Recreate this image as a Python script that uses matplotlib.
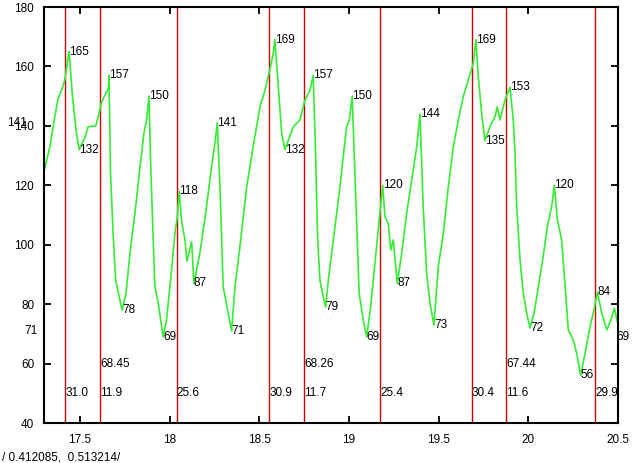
import matplotlib
matplotlib.use('Agg')
import matplotlib.pyplot as plt
import matplotlib.transforms as mtransforms

# signal trace
sig_x = [17.30, 17.333, 17.36, 17.379, 17.398, 17.416, 17.435, 17.44, 17.459, 17.481,
         17.496, 17.528, 17.546, 17.589, 17.602, 17.621, 17.64, 17.658, 17.662, 17.671,
         17.686, 17.70, 17.723, 17.736, 17.757, 17.779, 17.807, 17.835, 17.857, 17.872,
         17.885, 17.894, 17.905, 17.918, 17.937, 17.964, 17.983, 18.011, 18.03, 18.043,
         18.054, 18.067, 18.086, 18.097, 18.123, 18.136, 18.169, 18.206, 18.234, 18.253,
         18.266, 18.281, 18.299, 18.327, 18.346, 18.365, 18.392, 18.43, 18.466, 18.504,
         18.532, 18.559, 18.578, 18.587, 18.606, 18.625, 18.643, 18.69, 18.727, 18.755,
         18.783, 18.801, 18.814, 18.825, 18.838, 18.857, 18.870, 18.885, 18.922, 18.95,
         18.968, 18.987, 19.002, 19.018, 19.028, 19.043, 19.057, 19.08, 19.099, 19.121,
         19.145, 19.169, 19.177, 19.188, 19.201, 19.219, 19.233, 19.247, 19.27, 19.294,
         19.322, 19.35, 19.378, 19.396, 19.414, 19.433, 19.452, 19.474, 19.498, 19.526,
         19.554, 19.582, 19.61, 19.637, 19.665, 19.693, 19.708, 19.721, 19.74, 19.758,
         19.786, 19.814, 19.827, 19.842, 19.87, 19.898, 19.916, 19.926, 19.935, 19.954,
         19.972, 19.991, 20.009, 20.032, 20.056, 20.08, 20.106, 20.13, 20.145, 20.162,
         20.186, 20.205, 20.223, 20.251, 20.27, 20.292, 20.316, 20.344, 20.366, 20.385,
         20.41, 20.438, 20.46, 20.48, 20.494, 20.5]
sig_y = [124.6, 133, 143, 149.3, 152, 155.4, 163.3, 165, 149.8, 137.5,
         132, 136, 139.7, 140, 143, 148, 150.4, 152.6, 157, 124,
         102.7, 88, 81.4, 78, 83.6, 97, 110.7, 126, 137.5, 142,
         150, 128.5, 108.3, 85.9, 80.3, 69, 74.6, 91.5, 103.8, 109.4,
         118, 108, 101.6, 94.5, 101, 87, 97.1, 112.8, 126.2, 134.1,
         141, 119.5, 85.9, 76.9, 71, 85.9, 99.3, 119.5, 133, 146.4,
         152, 158.8, 164.4, 169, 153.2, 137.5, 132, 139.7, 142, 148.7,
         152, 157, 130.7, 102.7, 88.1, 82.5, 79, 88.1, 106.1, 119.5,
         129.6, 139.7, 142, 150, 133, 108.3, 83.6, 74.6, 69, 79.1,
         93.7, 108.3, 112.8, 120, 109.4, 107.2, 98.2, 101.6, 87, 97.1,
         110.6, 121.8, 133, 144, 112.8, 90.4, 80.3, 73, 92.6, 103.8,
         119.5, 133, 142, 149.8, 155.4, 161, 169, 156.5, 144.2, 135,
         139.7, 143.1, 146.4, 142, 148.7, 153, 142, 130.7, 112.8, 94.8,
         83.6, 76.9, 72, 76.9, 85.9, 94.8, 106.1, 112.8, 120, 108.3,
         101.6, 85.9, 71.3, 67.9, 63.4, 56, 63.4, 72.4, 78, 84,
         76.9, 71.3, 74.6, 78.6, 74.6, 73.5]

# labelled extrema
ext_x = [17.44, 17.496, 17.662, 17.736, 17.885, 17.964, 18.054, 18.136, 18.266, 18.346,
         18.587, 18.643, 18.801, 18.870, 19.018, 19.099, 19.188, 19.27, 19.396, 19.474,
         19.708, 19.758, 19.898, 20.009, 20.145, 20.292, 20.385]
ext_val = [165, 132, 157, 78, 150, 69, 118, 87, 141, 71,
           169, 132, 157, 79, 150, 69, 120, 87, 144, 73,
           169, 135, 153, 72, 120, 56, 84]

# red markers and their annotations
mark_x = [17.418, 17.613, 18.041, 18.556, 18.751, 19.175, 19.684, 19.877, 20.374]
mark_low = ['31.0', '11.9', '25.6', '30.9', '11.7', '25.4', '30.4', '11.6', '29.9']
mark_mid = {17.613: '68.45', 18.751: '68.26', 19.877: '67.44'}

xticks = [17.5, 18, 18.5, 19, 19.5, 20, 20.5]
xticklabels = ['17.5', '18', '18.5', '19', '19.5', '20', '20.5']
yticks = [40, 60, 80, 100, 120, 140, 160, 180]

plt.rcParams['font.family'] = ['Liberation Sans', 'DejaVu Sans']
fsz = 8.5

fig = plt.figure(figsize=(6.4, 4.63), dpi=100)
ax = fig.add_axes([44 / 640, 1 - 423 / 463, 574 / 640, 416 / 463])
ax.set_xlim(17.3, 20.5)
ax.set_ylim(40, 180)

for mx, lab in zip(mark_x, mark_low):
    ax.axvline(mx, color='#cc0000', lw=1.0, zorder=1)
    ax.text(mx, 50, lab, ha='left', va='center', fontsize=fsz, clip_on=False)
    if mx in mark_mid:
        ax.text(mx, 60, mark_mid[mx], ha='left', va='center', fontsize=fsz)

ax.plot(sig_x, sig_y, color='#33ee33', lw=1.2, zorder=2)

for ex, ev in zip(ext_x, ext_val):
    ax.text(ex, ev, str(ev), ha='left', va='center', fontsize=fsz, zorder=3)

ax.set_xticks(xticks)
ax.set_xticklabels(xticklabels, fontsize=fsz)
ax.set_yticks(yticks)
ax.set_yticklabels([str(v) for v in yticks], fontsize=fsz)
ax.tick_params(direction='in', length=5, width=1.3, top=True, right=True, pad=7)
ax.tick_params(axis='x', pad=8)
for sp in ax.spines.values():
    sp.set_linewidth(1.5)
    sp.set_zorder(4)

# extra labels outside the frame
trans = mtransforms.blended_transform_factory(ax.transAxes, ax.transData)
ax.text(-0.0296, 141, '141', transform=trans, ha='right', va='center', fontsize=fsz)
ax.text(-0.012, 71, '71', transform=trans, ha='right', va='center', fontsize=fsz)
ax.text(0.997, 69, '69', transform=trans, ha='left', va='center', fontsize=fsz)

fig.text(2 / 640, 1 - 458 / 463, '/ 0.412085,  0.513214/', ha='left', va='center', fontsize=fsz)

fig.savefig('out.png', dpi=100)
